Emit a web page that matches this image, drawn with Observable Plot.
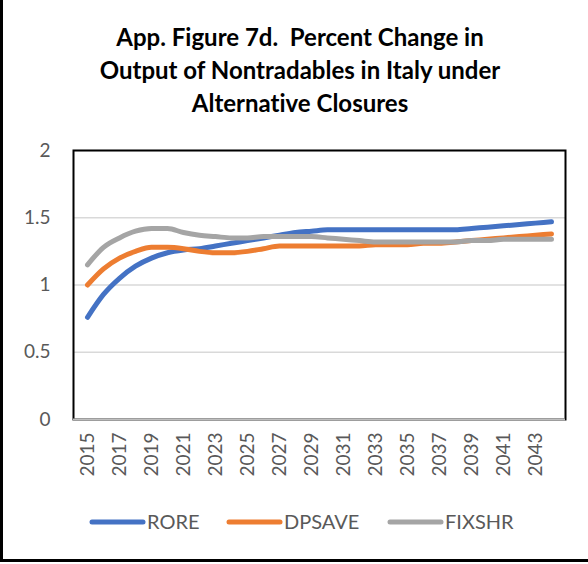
<!DOCTYPE html>
<html>
<head>
<meta charset="utf-8">
<script src="https://cdn.jsdelivr.net/npm/d3@7"></script>
<script src="https://cdn.jsdelivr.net/npm/@observablehq/plot@0.6"></script>
<style>
  html, body { margin: 0; padding: 0; background: #fff; }
  #wrap { position: relative; width: 588px; height: 564px; overflow: hidden; font-family: Lato, "Open Sans", sans-serif; font-variant-ligatures: none; }
  #border { position: absolute; left: 0; top: -4px; width: 600px; height: 566px; border-left: 3px solid #000; border-bottom: 3px solid #000; box-sizing: border-box; }
  #title { position: absolute; left: 0; width: 600px; top: 20px; text-align: center; font-weight: bold; font-size: 24px; line-height: 33px; color: #000; }
  #legend { position: absolute; top: 510px; left: 0; width: 588px; height: 24px; }
  #chart { position: absolute; left: 0; top: 0; }
</style>
</head>
<body>
<div id="wrap">
  <div id="chart"></div>
  <div id="title">App. Figure 7d.&nbsp; Percent Change in<br>Output of Nontradables in Italy under<br>Alternative Closures</div>
  <svg id="legend" width="588" height="24"></svg>
  <div id="border"></div>
</div>
<script>
const years = d3.range(2015, 2045);
const seriesNames = ["RORE", "DPSAVE", "FIXSHR"];
const seriesColors = ["#4472C4", "#ED7D31", "#A5A5A5"];
const rore = [0.76, 0.93, 1.05, 1.14, 1.20, 1.24, 1.26, 1.27, 1.29, 1.31,
              1.33, 1.35, 1.37, 1.39, 1.40, 1.41, 1.41, 1.41, 1.41, 1.41,
              1.41, 1.41, 1.41, 1.41, 1.42, 1.43, 1.44, 1.45, 1.46, 1.47];
const dpsave = [1.00, 1.12, 1.20, 1.25, 1.28, 1.28, 1.27, 1.25, 1.24, 1.24,
                1.25, 1.27, 1.29, 1.29, 1.29, 1.29, 1.29, 1.29, 1.30, 1.30,
                1.30, 1.31, 1.31, 1.32, 1.33, 1.34, 1.35, 1.36, 1.37, 1.38];
const fixshr = [1.15, 1.28, 1.35, 1.40, 1.42, 1.42, 1.39, 1.37, 1.36, 1.35,
                1.35, 1.36, 1.36, 1.36, 1.36, 1.35, 1.34, 1.33, 1.32, 1.32,
                1.32, 1.32, 1.32, 1.32, 1.33, 1.33, 1.34, 1.34, 1.34, 1.34];
const yTicks = [0, 0.5, 1, 1.5, 2];
const xTicks = years.filter((y) => y % 2 === 1);

const allSeries = [rore, dpsave, fixshr];
const data = [];
seriesNames.forEach((name, i) => {
  years.forEach((yr, j) => data.push({ series: name, year: yr, value: allSeries[i][j] }));
});

const chart = Plot.plot({
  width: 588,
  height: 564,
  marginTop: 150,
  marginBottom: 145,
  marginLeft: 73,
  marginRight: 23,
  style: { fontFamily: "Lato, 'Open Sans', sans-serif", background: "transparent" },
  x: { type: "point", domain: years, padding: 0.5 },
  y: { domain: [0, 2] },
  color: { domain: seriesNames, range: seriesColors },
  marks: [
    Plot.gridY(yTicks, { stroke: "#d9d9d9", strokeOpacity: 1, strokeWidth: 1.5 }),
    Plot.frame({ stroke: "#000", strokeWidth: 2 }),
    Plot.ruleY([0], { stroke: "#bfbfbf", strokeWidth: 2 }),
    Plot.axisY(yTicks, { tickSize: 0, tickPadding: 23, fontSize: 19, fill: "#595959", tickFormat: (d) => String(d), label: null }),
    Plot.axisX(xTicks, { tickSize: 0, tickPadding: 13, tickRotate: -90, fontSize: 19, fill: "#595959", tickFormat: (d) => String(d), label: null }),
    Plot.line(data, { x: "year", y: "value", z: "series", stroke: "series", strokeWidth: 5, strokeLinecap: "round", strokeLinejoin: "round", curve: "monotone-x" })
  ]
});
document.getElementById("chart").appendChild(chart);

// legend
const leg = d3.select("#legend");
const legendX = [90, 227, 388];
seriesNames.forEach((name, i) => {
  const g = leg.append("g").attr("transform", `translate(${legendX[i]},0)`);
  g.append("line").attr("x1", 2).attr("x2", 53).attr("y1", 12).attr("y2", 12)
    .attr("stroke", seriesColors[i]).attr("stroke-width", 5).attr("stroke-linecap", "round");
  g.append("text").attr("x", 57).attr("y", 19).text(name)
    .attr("font-size", 20).attr("fill", "#595959").attr("font-family", "Lato, 'Open Sans', sans-serif");
});
</script>
</body>
</html>
